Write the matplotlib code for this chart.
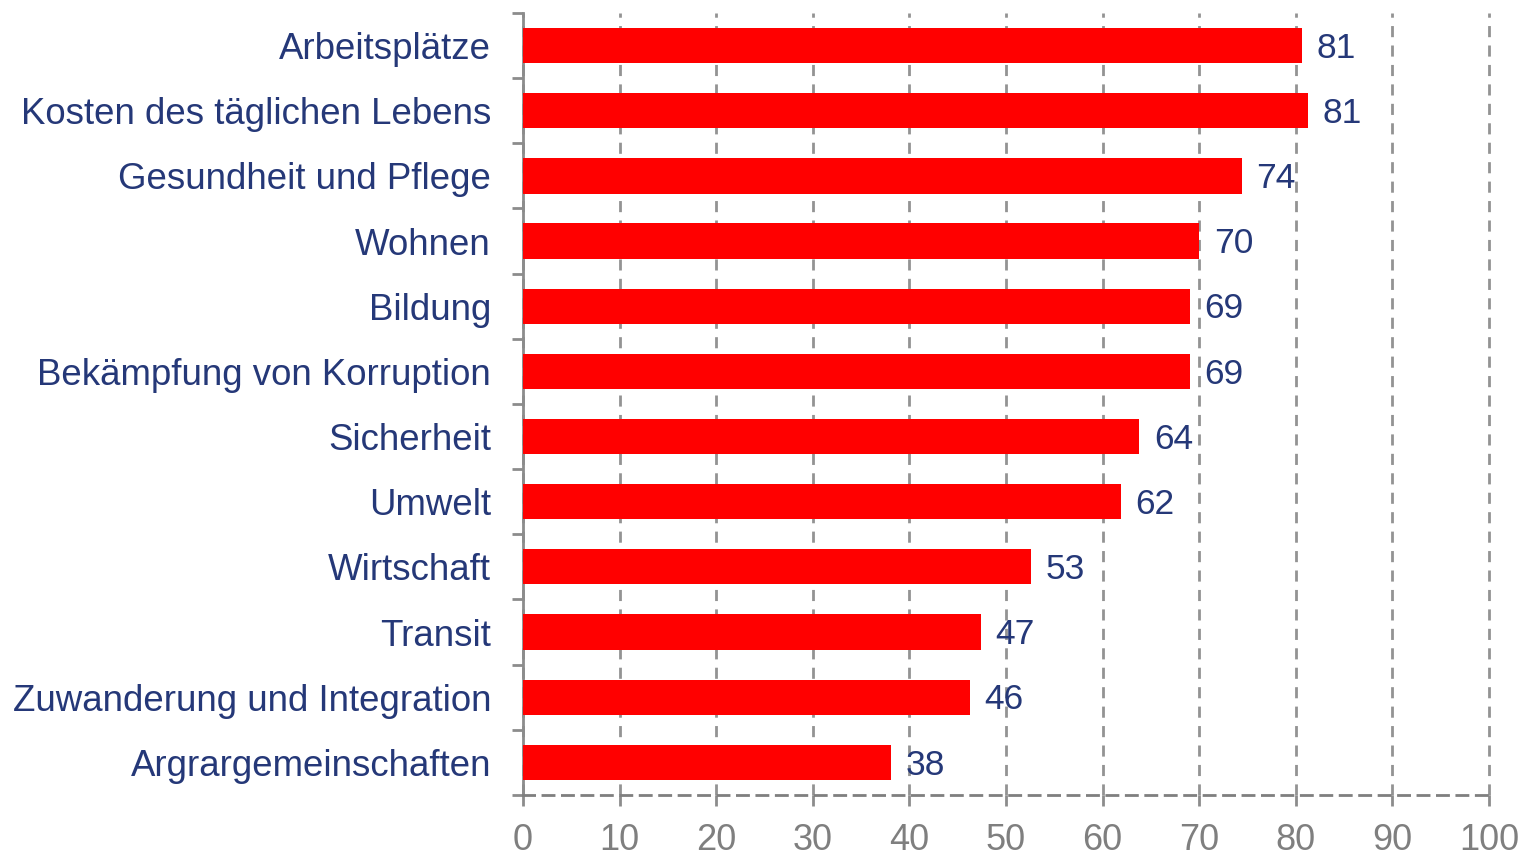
import numpy as np
import matplotlib.pyplot as plt

plt.rcParams['font.family'] = ['Liberation Sans', 'DejaVu Sans']

categories = ['Arbeitsplätze', 'Kosten des täglichen Lebens', 'Gesundheit und Pflege',
              'Wohnen', 'Bildung', 'Bekämpfung von Korruption', 'Sicherheit', 'Umwelt',
              'Wirtschaft', 'Transit', 'Zuwanderung und Integration', 'Argrargemeinschaften']
values = [80.6, 81.3, 74.4, 70.0, 69.0, 69.0, 63.8, 61.9, 52.6, 47.4, 46.3, 38.1]
xticks = [0, 10, 20, 30, 40, 50, 60, 70, 80, 90, 100]

navy = '#253878'
grey = '#8c8c8c'

fig = plt.figure(figsize=(15.22, 8.55), dpi=100)
ax = fig.add_axes([0.3436, 0.0702, 0.6347, 0.9146])

y = np.arange(len(categories))
ax.barh(y, values, height=0.54, color='#ff0000', zorder=3)
for yi, v in zip(y, values):
    ax.text(v + 1.5, yi + 0.04, '%d' % round(v), va='center', ha='left',
            fontsize=25.5, color=navy, zorder=4)

ax.set_ylim(len(categories) - 0.5, -0.5)
ax.set_xlim(0, 100)
ax.set_xticks(xticks)
ax.set_yticks(np.arange(len(categories) + 1) - 0.5)
ax.set_yticklabels([])
ax.set_yticks(y, minor=True)
ax.set_yticklabels(categories, minor=True, fontsize=26.4, color=navy)
ax.tick_params(axis='y', which='minor', length=0, pad=23)
ax.tick_params(axis='y', which='major', length=8, width=2, color=grey)
ax.tick_params(axis='x', length=8, width=2, color=grey, labelsize=26,
               labelcolor='#7f7f7f', pad=12)

ax.grid(axis='x', linestyle=(0, (4, 3)), color='#939393', linewidth=2, zorder=0)
for line in ax.get_xgridlines():
    line.set_clip_on(False)
for s in ['top', 'right']:
    ax.spines[s].set_visible(False)
ax.spines['left'].set_color(grey)
ax.spines['left'].set_linewidth(2)
ax.spines['bottom'].set_color('#7f7f7f')
ax.spines['bottom'].set_linewidth(2)
ax.spines['bottom'].set_linestyle((0, (4, 3)))

plt.savefig('out.png', dpi=100)
